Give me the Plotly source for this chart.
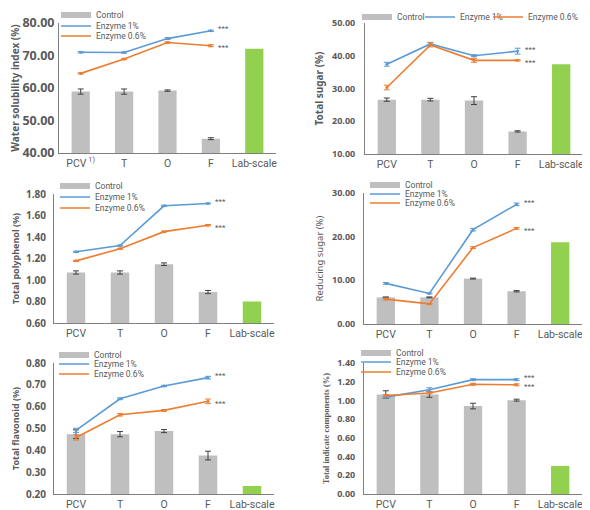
import plotly.graph_objects as go

W, H = 590, 510

# ---------------- data ----------------
categories = ["PCV", "T", "O", "F"]
lab_label = "Lab-scale"
tick_labels_first = ["PCV<sup> 1)</sup>", "T", "O", "F", "Lab-scale"]
tick_labels = ["PCV", "T", "O", "F", "Lab-scale"]

wsi_control = [58.9, 58.9, 59.2, 44.4]
wsi_control_err = [0.8, 0.8, 0.2, 0.3]
wsi_e1 = [71.0, 70.9, 75.2, 77.6]
wsi_e1_err = [0.2, 0.2, 0.3, 0.2]
wsi_e06 = [64.5, 68.9, 74.0, 73.0]
wsi_e06_err = [0.2, 0.2, 0.2, 0.3]
wsi_lab = 72.1

ts_control = [26.6, 26.6, 26.3, 16.9]
ts_control_err = [0.5, 0.4, 1.2, 0.2]
ts_e1 = [37.4, 43.6, 40.0, 41.4]
ts_e1_err = [0.6, 0.5, 0.3, 0.9]
ts_e06 = [30.3, 43.3, 38.6, 38.6]
ts_e06_err = [0.7, 0.6, 0.6, 0.2]
ts_lab = 37.4

tp_control = [1.07, 1.07, 1.147, 0.888]
tp_control_err = [0.015, 0.015, 0.012, 0.015]
tp_e1 = [1.262, 1.32, 1.69, 1.712]
tp_e1_err = [0.005, 0.005, 0.006, 0.004]
tp_e06 = [1.178, 1.29, 1.45, 1.51]
tp_e06_err = [0.005, 0.005, 0.005, 0.006]
tp_lab = 0.80

rs_control = [6.1, 6.1, 10.4, 7.5]
rs_control_err = [0.1, 0.1, 0.1, 0.15]
rs_e1 = [9.3, 7.0, 21.6, 27.4]
rs_e1_err = [0.2, 0.1, 0.3, 0.3]
rs_e06 = [5.7, 4.6, 17.5, 21.9]
rs_e06_err = [0.2, 0.1, 0.2, 0.2]
rs_lab = 18.7

tf_control = [0.474, 0.474, 0.488, 0.376]
tf_control_err = [0.02, 0.012, 0.007, 0.02]
tf_e1 = [0.491, 0.636, 0.695, 0.733]
tf_e1_err = [0.01, 0.004, 0.003, 0.006]
tf_e06 = [0.459, 0.563, 0.583, 0.625]
tf_e06_err = [0.012, 0.006, 0.004, 0.01]
tf_lab = 0.237

ti_control = [1.063, 1.063, 0.94, 1.003]
ti_control_err = [0.04, 0.03, 0.03, 0.01]
ti_e1 = [1.035, 1.115, 1.222, 1.222]
ti_e1_err = [0.01, 0.02, 0.01, 0.01]
ti_e06 = [1.053, 1.08, 1.173, 1.167]
ti_e06_err = [0.01, 0.01, 0.01, 0.01]
ti_lab = 0.30

y_titles = ["Water solubility index (%)", "Total sugar (%)", "Total polyphenol (%)",
            "Reducing sugar (%)", "Total flavonoid (%)", "Total indicate components (%)"]
y_ranges = [(40, 80), (10, 50), (0.6, 1.8), (0, 30), (0.2, 0.8), (0, 1.4)]
y_dticks = [10, 10, 0.2, 10, 0.1, 0.2]
sig_mark = "***"
series_names = ["Control", "Enzyme 1%", "Enzyme 0.6%"]

panels = [
    (wsi_control, wsi_control_err, wsi_e1, wsi_e1_err, wsi_e06, wsi_e06_err, wsi_lab),
    (ts_control, ts_control_err, ts_e1, ts_e1_err, ts_e06, ts_e06_err, ts_lab),
    (tp_control, tp_control_err, tp_e1, tp_e1_err, tp_e06, tp_e06_err, tp_lab),
    (rs_control, rs_control_err, rs_e1, rs_e1_err, rs_e06, rs_e06_err, rs_lab),
    (tf_control, tf_control_err, tf_e1, tf_e1_err, tf_e06, tf_e06_err, tf_lab),
    (ti_control, ti_control_err, ti_e1, ti_e1_err, ti_e06, ti_e06_err, ti_lab),
]

# ---------------- style / layout (pixels) ----------------
C_CTRL = "#BFBFBF"
C_LAB = "#92D050"
C_E1 = "#5B9BD5"
C_E06 = "#ED7D31"
TXT = "#595959"
FONT = "Noto Sans"
NARROW = "Roboto, sans-serif"

# plot areas: (left, right, top, bottom) in px
areas = [(51, 268, 15, 145), (357, 575, 15, 146),
         (46, 266, 186, 315), (356, 574, 185, 316),
         (46, 266, 355, 486), (356, 574, 355, 486)]
# legend origin positions (x_px, y_px) for Control, E1, E0.6
leg_pos = [
    [(48, 7), (48, 18), (48, 28)],
    [(349, 9), (412, 9), (480, 9)],
    [(47, 178), (47, 189), (47, 200)],
    [(357, 177), (357, 186), (357, 195)],
    [(46, 347), (46, 356), (46, 366)],
    [(348, 345), (348, 354), (348, 364)],
]
tick_sizes = [12.5, 9, 10, 9, 10, 9]
tick_stand = [1, 7, 5, 6, 5, 6]
title_stand = [1, 6, 4, 6, 4, 6]
title_fonts = [
    dict(family=FONT, size=10, color=TXT, weight="bold"),
    dict(family=FONT, size=10, color=TXT, weight="bold"),
    dict(family=FONT, size=9, color=TXT, weight="bold"),
    dict(family=FONT, size=9.5, color=TXT, weight="normal"),
    dict(family=FONT, size=9, color=TXT, weight="bold"),
    dict(family="Liberation Serif", size=8.5, color=TXT, weight="bold"),
]

def px_x(p):
    return p / W

def px_y(p):
    return 1 - p / H

fig = go.Figure()
layout = dict(width=W, height=H, margin=dict(l=0, r=0, t=0, b=0, autoexpand=False),
              paper_bgcolor="white", plot_bgcolor="white",
              barmode="overlay", showlegend=True, annotations=[])

all_x = categories + [lab_label]
leg_counter = 0
for i, (ctrl, ctrl_err, e1, e1_err, e06, e06_err, lab) in enumerate(panels):
    n = i + 1
    xa = "x" if n == 1 else f"x{n}"
    ya = "y" if n == 1 else f"y{n}"
    l, r, t, b = areas[i]
    # bars
    fig.add_trace(go.Bar(x=categories, y=ctrl, xaxis=xa, yaxis=ya, width=0.42,
                         marker=dict(color=C_CTRL, line=dict(width=0)),
                         error_y=dict(type="data", array=ctrl_err, color="#404040",
                                      thickness=1, width=3),
                         showlegend=False, name="Control"))
    fig.add_trace(go.Bar(x=[lab_label], y=[lab], xaxis=xa, yaxis=ya, width=0.42,
                         marker=dict(color=C_LAB, line=dict(width=0)),
                         showlegend=False, name=lab_label))
    for k, (vals, errs, col) in enumerate(((e1, e1_err, C_E1), (e06, e06_err, C_E06))):
        fig.add_trace(go.Scatter(x=categories, y=vals, xaxis=xa, yaxis=ya,
                                 mode="lines+markers", line=dict(color=col, width=1.6),
                                 marker=dict(size=3, color=col),
                                 error_y=dict(type="data", array=errs, color=col,
                                              thickness=1, width=3),
                                 showlegend=False))
        layout["annotations"].append(dict(x=categories[-1], y=vals[-1], xref=xa, yref=ya,
                                          text=sig_mark, showarrow=False, xanchor="left",
                                          yanchor="middle", xshift=5,
                                          yshift=2 if k == 0 else -2,
                                          font=dict(family=NARROW, size=8, color=TXT)))
    # legend-only entries
    styles = [(C_CTRL, 6), (C_E1, 1.6), (C_E06, 1.6)]
    for j, name in enumerate(series_names):
        leg_counter += 1
        lid = "legend" if leg_counter == 1 else f"legend{leg_counter}"
        col, wdt = styles[j]
        fig.add_trace(go.Scatter(x=[None], y=[None], xaxis=xa, yaxis=ya, name=name,
                                 mode="lines", line=dict(color=col, width=wdt),
                                 showlegend=True, legend=lid))
        kx, ky = leg_pos[i][j]
        layout[lid] = dict(x=px_x(kx), y=px_y(ky), xanchor="left", yanchor="middle",
                           bgcolor="rgba(0,0,0,0)", borderwidth=0,
                           font=dict(family=NARROW, size=8.5, color=TXT),
                           itemclick=False, itemdoubleclick=False)
    # axes
    xkey = "xaxis" if n == 1 else f"xaxis{n}"
    ykey = "yaxis" if n == 1 else f"yaxis{n}"
    layout[xkey] = dict(domain=[px_x(l), px_x(r)], anchor=ya, type="category",
                        categoryorder="array", categoryarray=all_x,
                        tickmode="array", tickvals=all_x,
                        ticktext=tick_labels_first if n == 1 else tick_labels,
                        range=[-0.5, 4.5], showline=True, linecolor="#7F7F7F", linewidth=1,
                        ticks="", showgrid=False, zeroline=False,
                        tickfont=dict(family=NARROW, size=10.5, color=TXT))
    y0, y1 = y_ranges[i]
    layout[ykey] = dict(domain=[px_y(b), px_y(t)], anchor=xa, range=[y0, y1],
                        tick0=y0, dtick=y_dticks[i], tickformat=".2f",
                        showline=True, linecolor="#7F7F7F", linewidth=1,
                        ticks="", showgrid=False, zeroline=False,
                        ticklabelstandoff=tick_stand[i],
                        tickfont=dict(family=FONT, size=tick_sizes[i], color=TXT, weight="bold"),
                        title=dict(text=y_titles[i], font=title_fonts[i],
                                   standoff=title_stand[i]))

fig.update_layout(**layout)
fig.write_html("out.html")
